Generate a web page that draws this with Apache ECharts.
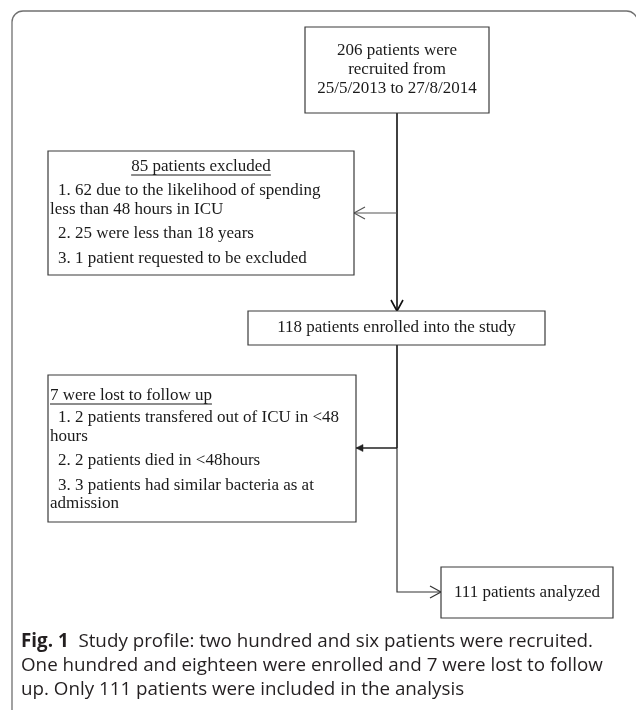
<!DOCTYPE html>
<html><head><meta charset="utf-8">
<script src="https://cdn.jsdelivr.net/npm/echarts@6/dist/echarts.min.js"></script>
<style>html,body{margin:0;padding:0;background:#fff}#c{width:636px;height:710px}</style>
</head><body><div id="c"></div>
<script>
// ---------- data (texts of the flow chart) ----------
const startText = ['206 patients were', 'recruited from', '25/5/2013 to 27/8/2014'];
const excludedTitle = '85 patients excluded';
const excludedItems = [
  ['1. 62 due to the likelihood of spending', 'less than 48 hours in ICU'],
  ['2. 25 were less than 18 years'],
  ['3. 1 patient requested to be excluded']
];
const enrolledText = '118 patients enrolled into the study';
const lostTitle = '7 were lost to follow up';
const lostItems = [
  ['1. 2 patients transfered out of ICU in <48', 'hours'],
  ['2. 2 patients died in <48hours'],
  ['3. 3 patients had similar bacteria as at', 'admission']
];
const analyzedText = '111 patients analyzed';
const captionLabel = 'Fig. 1';
const captionLines = [
  'Study profile: two hundred and six patients were recruited.',
  'One hundred and eighteen were enrolled and 7 were lost to follow',
  'up. Only 111 patients were included in the analysis'
];

// ---------- layout (positions in chart units) ----------
const SERIF = '"Liberation Serif","Times New Roman",serif';
const FS = 17;
const boxFont = FS + 'px ' + SERIF;
const TXT = '#1a1a1a';
const BOX_STROKE = '#3a3a3a';

const layout = {
  start:    {x: 305, y: 27,  w: 184, h: 86},
  excluded: {x: 48,  y: 151, w: 306, h: 124, headDy: 16, itemDy: 40, align: 'center'},
  enrolled: {x: 248, y: 311, w: 297, h: 34},
  lost:     {x: 48,  y: 375, w: 308, h: 147, headDy: 21, itemDy: 43, align: 'left'},
  analyzed: {x: 441, y: 567, w: 172, h: 51}
};
const WRAP_GAP = 18.5, ITEM_GAP = 24.5, INDENT = 10, FLUSH = 2;
const MAIN_X = 397;
const CAP_FS = 18.8;

const measureCtx = document.createElement('canvas').getContext('2d');
function textWidth(t, font) { measureCtx.font = font; return measureCtx.measureText(t).width; }

const chart = echarts.init(document.getElementById('c'), null, {renderer: 'canvas'});

function P(api, x, y) { return api.coord([x, y]); }

function rectEl(api, b) {
  const p1 = P(api, b.x, b.y), p2 = P(api, b.x + b.w, b.y + b.h);
  return {type: 'rect', shape: {x: p1[0], y: p1[1], width: p2[0] - p1[0], height: p2[1] - p1[1]},
    style: {fill: '#fff', stroke: BOX_STROKE, lineWidth: 1.2}};
}
function textEl(api, t, x, y, align) {
  const p = P(api, x, y);
  return {type: 'text', style: {text: t, x: p[0], y: p[1], font: boxFont, fill: TXT,
    textAlign: align || 'left', textVerticalAlign: 'middle'}};
}
function underlineEl(api, t, x, y, align) {
  const w = textWidth(t, boxFont);
  let x0 = align === 'center' ? x - w / 2 : x;
  const p1 = P(api, x0, y + 8), p2 = P(api, x0 + w, y + 8);
  return {type: 'line', shape: {x1: p1[0], y1: p1[1], x2: p2[0], y2: p2[1]}, style: {stroke: TXT, lineWidth: 1}};
}

function renderBox(params, api) {
  const key = ['start', 'excluded', 'enrolled', 'lost', 'analyzed'][params.dataIndex];
  const b = layout[key];
  const children = [rectEl(api, b)];
  const cx = b.x + b.w / 2, cy = b.y + b.h / 2;
  if (key === 'start') {
    const lh = 19;
    startText.forEach((t, i) => children.push(textEl(api, t, cx, cy + (i - 1) * lh, 'center')));
  } else if (key === 'enrolled') {
    children.push(textEl(api, enrolledText, cx, cy, 'center'));
  } else if (key === 'analyzed') {
    children.push(textEl(api, analyzedText, cx, cy, 'center'));
  } else {
    const title = key === 'excluded' ? excludedTitle : lostTitle;
    const items = key === 'excluded' ? excludedItems : lostItems;
    const hx = b.align === 'center' ? cx : b.x + FLUSH;
    const hy = b.y + b.headDy;
    children.push(textEl(api, title, hx, hy, b.align === 'center' ? 'center' : 'left'));
    children.push(underlineEl(api, title, hx, hy, b.align));
    let y = b.y + b.itemDy;
    items.forEach((lines, i) => {
      if (i > 0) y += ITEM_GAP;
      lines.forEach((t, j) => {
        if (j > 0) y += WRAP_GAP;
        children.push(textEl(api, t, j === 0 ? b.x + INDENT : b.x + FLUSH, y, 'left'));
      });
    });
  }
  return {type: 'group', children};
}

// connectors: polyline points + head type + style
const connectors = [
  {pts: [[MAIN_X, 113], [MAIN_X, 311]], head: 'open', color: '#111', lw: 1.6},
  {pts: [[MAIN_X, 213], [354, 213]], head: 'open', color: '#555', lw: 1.1},
  {pts: [[MAIN_X, 345], [MAIN_X, 448]], head: null, color: '#111', lw: 1.6},
  {pts: [[MAIN_X, 448], [MAIN_X, 592], [441, 592]], head: 'open', color: '#333', lw: 1.2},
  {pts: [[MAIN_X, 448], [356, 448]], head: 'filled', color: '#222', lw: 1.3}
];

function renderConnector(params, api) {
  const c = connectors[params.dataIndex];
  const pts = c.pts.map(p => P(api, p[0], p[1]));
  const children = [{type: 'polyline', shape: {points: pts}, style: {stroke: c.color, lineWidth: c.lw, fill: null}}];
  if (c.head) {
    const a = pts[pts.length - 2], b = pts[pts.length - 1];
    const ang = Math.atan2(b[1] - a[1], b[0] - a[0]);
    const L = c.head === 'open' ? 11 : 7, W = c.head === 'open' ? 6 : 3.5;
    const bx = b[0] - L * Math.cos(ang), by = b[1] - L * Math.sin(ang);
    const nx = -Math.sin(ang), ny = Math.cos(ang);
    const l = [bx + W * nx, by + W * ny], r = [bx - W * nx, by - W * ny];
    if (c.head === 'open') {
      children.push({type: 'polyline', shape: {points: [l, b, r]}, style: {stroke: c.color, lineWidth: c.lw, fill: null}});
    } else {
      children.push({type: 'polygon', shape: {points: [l, b, r]}, style: {fill: c.color, stroke: c.color, lineWidth: 0.5}});
    }
  }
  return {type: 'group', children};
}

function renderFrame(params, api) {
  const p1 = P(api, 12, 11), p2 = P(api, 637.6, 760);
  const children = [{type: 'rect', shape: {x: p1[0], y: p1[1], width: p2[0] - p1[0], height: p2[1] - p1[1], r: 11},
    style: {fill: null, stroke: '#707070', lineWidth: 1.3}}];
  const capFont = CAP_FS + 'px "Open Sans","Noto Sans",sans-serif';
  const capY = [642, 666, 690];
  captionLines.forEach((t, i) => {
    const p = P(api, 21, capY[i]);
    children.push({type: 'text', style: {
      text: i === 0 ? '{b|' + captionLabel + '}  ' + t : t,
      x: p[0], y: p[1], font: capFont, fill: '#231f20', textVerticalAlign: 'middle',
      rich: {b: {font: 'bold ' + CAP_FS + 'px "Open Sans","Noto Sans",sans-serif', fill: '#231f20'}}
    }});
  });
  return {type: 'group', children};
}

chart.setOption({
  animation: false,
  grid: {left: 0, right: 0, top: 0, bottom: 0},
  xAxis: {type: 'value', min: 0, max: 636, show: false},
  yAxis: {type: 'value', min: 0, max: 710, inverse: true, show: false},
  series: [
    {type: 'custom', renderItem: renderFrame, data: [0], silent: true, clip: false},
    {type: 'custom', renderItem: renderConnector, data: connectors.map((c, i) => i), silent: true},
    {type: 'custom', renderItem: renderBox, data: [0, 1, 2, 3, 4], silent: true}
  ]
});
</script>
</body></html>
